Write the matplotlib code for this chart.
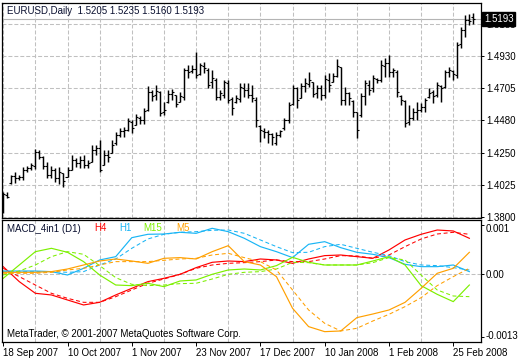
import matplotlib
matplotlib.use("Agg")
import matplotlib.pyplot as plt
import matplotlib.transforms as mtransforms
import numpy as np

plt.rcParams['font.family'] = ['Liberation Sans', 'DejaVu Sans']

# ---------------- data ----------------
tick_bars = [0, 16, 32, 48, 64, 80, 96, 112]
tick_labels = ["18 Sep 2007", "10 Oct 2007", "1 Nov 2007", "23 Nov 2007",
               "17 Dec 2007", "10 Jan 2008", "1 Feb 2008", "25 Feb 2008"]

opens = [1.3842, 1.3955, 1.4039, 1.4088, 1.4074, 1.4081, 1.4131, 1.4145, 1.4159, 1.4257,
         1.4222, 1.4159, 1.4095, 1.4131, 1.4074, 1.4110, 1.4081, 1.4131, 1.4201, 1.4180,
         1.4201, 1.4166, 1.4187, 1.4271, 1.4285, 1.4166, 1.4236, 1.4250, 1.4320, 1.4377,
         1.4405, 1.4412, 1.4468, 1.4447, 1.4496, 1.4482, 1.4552, 1.4679, 1.4658, 1.4679,
         1.4538, 1.4609, 1.4665, 1.4658, 1.4609, 1.4644, 1.4834, 1.4827, 1.4841, 1.4805,
         1.4862, 1.4834, 1.4749, 1.4763, 1.4644, 1.4658, 1.4742, 1.4630, 1.4609, 1.4630,
         1.4707, 1.4693, 1.4658, 1.4623, 1.4440, 1.4405, 1.4398, 1.4384, 1.4320, 1.4377,
         1.4426, 1.4482, 1.4595, 1.4707, 1.4637, 1.4721, 1.4735, 1.4749, 1.4672, 1.4707,
         1.4658, 1.4763, 1.4749, 1.4791, 1.4855, 1.4623, 1.4672, 1.4616, 1.4538, 1.4517,
         1.4651, 1.4728, 1.4707, 1.4770, 1.4763, 1.4862, 1.4883, 1.4819, 1.4819, 1.4651,
         1.4616, 1.4468, 1.4496, 1.4538, 1.4552, 1.4573, 1.4644, 1.4679, 1.4658, 1.4721,
         1.4714, 1.4819, 1.4827, 1.4798, 1.5016, 1.5115, 1.5185, 1.5205]

highs = [1.3976, 1.3976, 1.4095, 1.4117, 1.4095, 1.4152, 1.4159, 1.4180, 1.4278, 1.4271,
         1.4229, 1.4187, 1.4159, 1.4145, 1.4152, 1.4110, 1.4152, 1.4236, 1.4215, 1.4229,
         1.4236, 1.4201, 1.4306, 1.4306, 1.4341, 1.4271, 1.4271, 1.4341, 1.4398, 1.4426,
         1.4433, 1.4496, 1.4482, 1.4524, 1.4510, 1.4566, 1.4721, 1.4693, 1.4728, 1.4686,
         1.4609, 1.4693, 1.4700, 1.4658, 1.4679, 1.4848, 1.4869, 1.4869, 1.4960, 1.4883,
         1.4890, 1.4848, 1.4834, 1.4777, 1.4693, 1.4763, 1.4763, 1.4644, 1.4658, 1.4742,
         1.4742, 1.4742, 1.4728, 1.4644, 1.4447, 1.4426, 1.4412, 1.4391, 1.4398, 1.4412,
         1.4496, 1.4609, 1.4728, 1.4714, 1.4742, 1.4777, 1.4819, 1.4749, 1.4728, 1.4728,
         1.4798, 1.4812, 1.4812, 1.4911, 1.4855, 1.4714, 1.4679, 1.4623, 1.4538, 1.4672,
         1.4763, 1.4763, 1.4798, 1.4777, 1.4904, 1.4918, 1.4939, 1.4848, 1.4834, 1.4658,
         1.4623, 1.4588, 1.4566, 1.4609, 1.4602, 1.4637, 1.4707, 1.4693, 1.4749, 1.4728,
         1.4834, 1.4855, 1.4834, 1.5031, 1.5136, 1.5220, 1.5227, 1.5235]

lows = [1.3828, 1.3934, 1.4032, 1.4039, 1.4060, 1.4060, 1.4117, 1.4131, 1.4138, 1.4208,
        1.4138, 1.4074, 1.4074, 1.4046, 1.4032, 1.4011, 1.4081, 1.4131, 1.4152, 1.4145,
        1.4145, 1.4145, 1.4187, 1.4236, 1.4117, 1.4166, 1.4187, 1.4250, 1.4306, 1.4363,
        1.4363, 1.4405, 1.4391, 1.4447, 1.4454, 1.4454, 1.4545, 1.4616, 1.4623, 1.4510,
        1.4517, 1.4602, 1.4623, 1.4573, 1.4609, 1.4623, 1.4777, 1.4812, 1.4777, 1.4798,
        1.4812, 1.4707, 1.4707, 1.4623, 1.4623, 1.4637, 1.4602, 1.4517, 1.4602, 1.4609,
        1.4644, 1.4637, 1.4609, 1.4433, 1.4327, 1.4356, 1.4320, 1.4306, 1.4306, 1.4363,
        1.4412, 1.4461, 1.4588, 1.4566, 1.4637, 1.4679, 1.4714, 1.4644, 1.4637, 1.4623,
        1.4637, 1.4679, 1.4749, 1.4784, 1.4588, 1.4588, 1.4588, 1.4503, 1.4356, 1.4503,
        1.4588, 1.4658, 1.4679, 1.4742, 1.4749, 1.4784, 1.4784, 1.4784, 1.4644, 1.4588,
        1.4433, 1.4447, 1.4482, 1.4482, 1.4538, 1.4538, 1.4637, 1.4602, 1.4644, 1.4609,
        1.4707, 1.4784, 1.4763, 1.4777, 1.4988, 1.5066, 1.5150, 1.5160]

closes = [1.3962, 1.3941, 1.4088, 1.4074, 1.4081, 1.4131, 1.4145, 1.4166, 1.4257, 1.4222,
          1.4159, 1.4095, 1.4131, 1.4074, 1.4117, 1.4053, 1.4131, 1.4201, 1.4180, 1.4201,
          1.4166, 1.4180, 1.4271, 1.4285, 1.4131, 1.4236, 1.4222, 1.4306, 1.4377, 1.4405,
          1.4412, 1.4475, 1.4426, 1.4503, 1.4482, 1.4545, 1.4679, 1.4651, 1.4686, 1.4531,
          1.4552, 1.4665, 1.4679, 1.4595, 1.4651, 1.4834, 1.4819, 1.4841, 1.4798, 1.4869,
          1.4848, 1.4728, 1.4777, 1.4644, 1.4672, 1.4749, 1.4623, 1.4566, 1.4637, 1.4714,
          1.4693, 1.4658, 1.4637, 1.4482, 1.4412, 1.4398, 1.4384, 1.4363, 1.4377, 1.4405,
          1.4482, 1.4588, 1.4707, 1.4623, 1.4721, 1.4742, 1.4763, 1.4665, 1.4707, 1.4658,
          1.4770, 1.4728, 1.4791, 1.4862, 1.4623, 1.4672, 1.4637, 1.4538, 1.4412, 1.4651,
          1.4742, 1.4693, 1.4777, 1.4763, 1.4869, 1.4883, 1.4819, 1.4834, 1.4679, 1.4623,
          1.4461, 1.4496, 1.4538, 1.4552, 1.4573, 1.4623, 1.4672, 1.4651, 1.4728, 1.4707,
          1.4819, 1.4834, 1.4805, 1.5009, 1.5115, 1.5185, 1.5178, 1.5193]

price_ticks = [1.3800, 1.4025, 1.4250, 1.4480, 1.4705, 1.4930, 1.5155]

# MACD_4in1 sampled every 4th bar
macd_bars = [0, 4, 8, 12, 16, 20, 24, 28, 32, 36, 40, 44, 48, 52, 56, 60, 64, 68,
             72, 76, 80, 84, 88, 92, 96, 100, 104, 108, 112, 116]
h4_macd = [0.000144, -0.000163, -0.000402, -0.000436, -0.000539, -0.000641, -0.000587,
           -0.000436, -0.000300, -0.000163, -0.000095, -0.000013, 0.000124, 0.000233,
           0.000260, 0.000247, 0.000301, 0.000281, 0.000212, 0.000301, 0.000370, 0.000383,
           0.000349, 0.000315, 0.000486, 0.000691, 0.000807, 0.000895, 0.000875, 0.000725]
h4_signal = [0.000110, -0.000061, -0.000232, -0.000402, -0.000505, -0.000587, -0.000587,
             -0.000471, -0.000334, -0.000197, -0.000109, -0.000013, 0.000110, 0.000178,
             0.000212, 0.000226, 0.000247, 0.000281, 0.000247, 0.000247, 0.000301, 0.000370,
             0.000363, 0.000315, 0.000383, 0.000554, 0.000711, 0.000813, 0.000848, 0.000807]
h1_macd = [0.000055, 0.000055, 0.000055, 0.000042, -0.000027, 0.000110, 0.000281,
           0.000349, 0.000738, 0.000807, 0.000813, 0.000848, 0.000827, 0.000930,
           0.000861, 0.000725, 0.000554, 0.000451, 0.000329, 0.000602, 0.000656, 0.000533,
           0.000438, 0.000397, 0.000329, 0.000192, 0.000144, 0.000144, 0.000178, 0.000042]
h1_signal = [0.000042, 0.000042, 0.000042, 0.000042, 0.000028, 0.000042, 0.000178,
             0.000301, 0.000520, 0.000711, 0.000807, 0.000848, 0.000861, 0.000889,
             0.000895, 0.000827, 0.000691, 0.000554, 0.000431, 0.000438, 0.000554, 0.000602,
             0.000520, 0.000438, 0.000370, 0.000247, 0.000178, 0.000165, 0.000124, 0.000076]
m15_macd = [-0.000095, 0.000178, 0.000451, 0.000520, 0.000438, 0.000247, -0.000027,
            -0.000232, -0.000245, -0.000197, -0.000266, -0.000150, -0.000129, -0.000013,
            0.000076, 0.000096, 0.000076, 0.000165, 0.000335, 0.000233, 0.000178, 0.000178,
            0.000178, 0.000260, 0.000349, 0.000178, -0.000245, -0.000423, -0.000573, -0.000232]
m15_signal = [-0.000027, 0.000055, 0.000178, 0.000349, 0.000451, 0.000397, 0.000165,
              -0.000081, -0.000218, -0.000245, -0.000232, -0.000204, -0.000197, -0.000109,
              -0.000013, 0.000028, 0.000042, 0.000096, 0.000233, 0.000226, 0.000178, 0.000178,
              0.000178, 0.000226, 0.000329, 0.000281, -0.000027, -0.000334, -0.000457, -0.000471]
m5_macd = [0.000028, 0.000028, 0.000028, 0.000042, 0.000096, 0.000178, 0.000260,
           0.000301, 0.000260, 0.000212, 0.000315, 0.000329, 0.000301, 0.000451,
           0.000574, 0.000247, 0.000178, -0.000061, -0.000709, -0.001085, -0.001188,
           -0.001174, -0.000901, -0.000826, -0.000744, -0.000587, -0.000300, 0.000008,
           0.000110, 0.000438]
m5_signal = [0.000008, 0.000008, 0.000008, 0.000028, 0.000076, 0.000110, 0.000178,
             0.000247, 0.000247, 0.000247, 0.000274, 0.000301, 0.000315, 0.000383,
             0.000417, 0.000329, 0.000247, 0.000076, -0.000334, -0.000744, -0.001017,
             -0.001174, -0.001119, -0.000969, -0.000833, -0.000675, -0.000491, -0.000245,
             -0.000061, 0.000110]
macd_ticks = [0.001, 0.0, -0.0013]
macd_tick_labels = ["0.001", "0.00", "-0.0013"]

# ---------------- figure ----------------
W, H = 520, 360
fig = plt.figure(figsize=(W / 100, H / 100), dpi=100)
fig.patch.set_facecolor('white')

def frac(x0, y0, x1, y1):
    return [x0 / W, 1 - y1 / H, (x1 - x0) / W, (y1 - y0) / H]

ax1 = fig.add_axes(frac(2, 3, 481, 218))
ax2 = fig.add_axes(frac(2, 220, 481, 342))

GRID = '#C0C0C0'
grid_dash = (0, (3.8, 1.9))

for ax in (ax1, ax2):
    for s in ax.spines.values():
        s.set_color('black')
        s.set_linewidth(0.9)
    ax.set_xlim(-0.3, 118.9)
    ax.yaxis.tick_right()
    ax.tick_params(axis='y', which='both', direction='out', length=2.5, width=0.7,
                   pad=1, labelsize=7, colors='black')
    ax.set_xticks(np.arange(0, 119, 8), minor=True)
    ax.grid(True, axis='x', which='minor', color=GRID, linestyle=grid_dash, lw=0.75)
    ax.set_axisbelow(True)

# ----- price panel -----
x = np.arange(len(opens))
ax1.vlines(x, lows, highs, color='black', lw=1.05)
ax1.hlines(opens, x - 0.5, x, color='black', lw=0.8)
ax1.hlines(closes, x, x + 0.5, color='black', lw=0.8)
ax1.set_ylim(1.3793, 1.5305)
ax1.set_yticks(price_ticks)
ax1.set_yticklabels([f"{p:.4f}" for p in price_ticks])
ax1.grid(True, axis='y', color=GRID, linestyle=grid_dash, lw=0.75)
ax1.set_xticks([])
ax1.tick_params(axis='x', which='minor', length=0)
ax1.axhline(closes[-1], color='#B4B4B4', lw=0.8, zorder=0.5)
trans = mtransforms.blended_transform_factory(ax1.transAxes, ax1.transData)
ax1.text(1.0 + 3 / 479, closes[-1], f"{closes[-1]:.4f}", transform=trans, ha='left',
         va='center', color='white', fontsize=7, clip_on=False, zorder=5,
         bbox=dict(boxstyle='square,pad=0.18', fc='black', ec='black'))

fig.text(7 / W, 1 - 11 / H, "EURUSD,Daily  1.5205 1.5235 1.5160 1.5193",
         fontsize=7, color='#0a1030', va='center', ha='left')

# ----- MACD panel -----
dash = (0, (3.8, 2.6))
series = [
    (h4_macd, h4_signal, '#FF0000'),
    (h1_macd, h1_signal, '#19B5F5'),
    (m15_macd, m15_signal, '#7CF000'),
    (m5_macd, m5_signal, '#FFA000'),
]
for main, sig, col in series:
    ax2.plot(macd_bars, sig, color=col, lw=0.75, linestyle=dash)
    ax2.plot(macd_bars, main, color=col, lw=0.85)

ax2.set_ylim(-0.0014, 0.0011)
ax2.axhline(0, color=GRID, linestyle=grid_dash, lw=0.75, zorder=0.5)
ax2.set_yticks(macd_ticks)
ax2.set_yticklabels(macd_tick_labels)
# nudge the top/bottom labels inside the panel as MetaTrader does
ylabs = ax2.get_yticklabels()
ylabs[0].set_transform(ylabs[0].get_transform() +
                       mtransforms.ScaledTranslation(0, -3 / 100, fig.dpi_scale_trans))
ylabs[2].set_transform(ylabs[2].get_transform() +
                       mtransforms.ScaledTranslation(0, 2 / 100, fig.dpi_scale_trans))
ax2.set_xticks(tick_bars)
ax2.set_xticklabels(tick_labels)
ax2.tick_params(axis='x', which='major', direction='out', length=3, width=0.7,
                pad=1, labelsize=7, colors='black')
ax2.tick_params(axis='x', which='minor', length=0)
for lab in ax2.get_xticklabels():
    lab.set_horizontalalignment('left')

def ptxt(px, py, s, color, **kw):
    fig.text(px / W, 1 - py / H, s, color=color, fontsize=7, va='center', ha='left', **kw)

ptxt(7, 229, "MACD_4in1 (D1)", '#0a1030')
ptxt(94, 228, "H4", '#FF0000')
ptxt(119, 228, "H1", '#19B5F5')
ptxt(143, 228, "M15", '#7CF000')
ptxt(176, 228, "M5", '#FFA000')
ptxt(7, 334, "MetaTrader, \u00a9 2001-2007 MetaQuotes Software Corp.", 'black')

fig.savefig("out.png", dpi=100, facecolor='white')
